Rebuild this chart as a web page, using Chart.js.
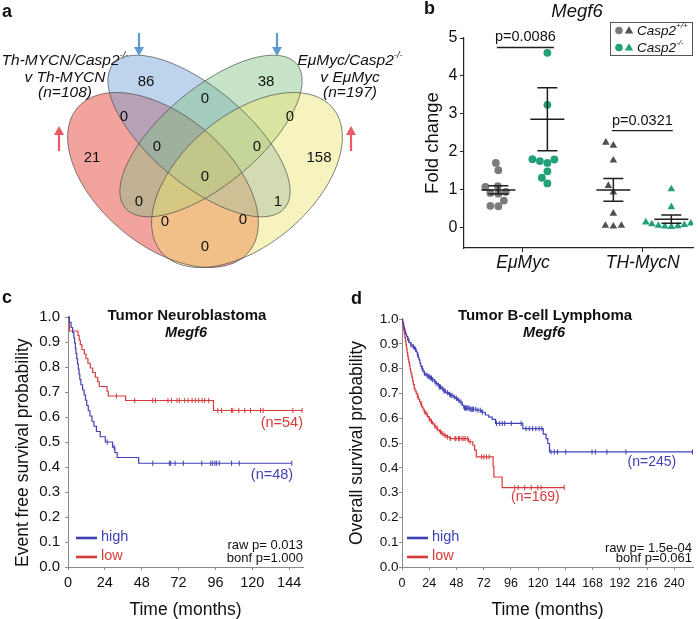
<!DOCTYPE html>
<html><head><meta charset="utf-8">
<script src="https://cdn.jsdelivr.net/npm/chart.js@4.4.1/dist/chart.umd.min.js"></script>
<style>
html,body{margin:0;padding:0;background:#fff;}
#wrap{position:relative;width:698px;height:619px;overflow:hidden;background:#fff;}
#wrap canvas{position:absolute;left:0;top:0;}
</style></head>
<body><div id="wrap">
<canvas id="cA" width="698" height="619"></canvas>
<canvas id="cB" width="698" height="619"></canvas>
<canvas id="cC" width="698" height="619"></canvas>
<canvas id="cD" width="698" height="619"></canvas>
</div>
<script>
// ---------------- DATA ----------------
// Panel a: Venn counts (A = Th-MYCN up, B = Th-MYCN down, C = EμMyc down, D = EμMyc up)
const vennRegions = ['A','B','C','D','B∩C','A∩B','C∩D','A∩B∩C','B∩C∩D','A∩B∩C∩D','A∩C','B∩D','A∩C∩D','A∩B∩D','A∩D'];
const vennCounts  = [21, 86, 38, 158, 0, 0, 0, 0, 0, 0, 0, 1, 0, 0, 0];
const vennSetLabels = [
  [[['Th-MYCN/Casp2',0],['-/-',1]], [['v Th-MYCN',0]], [['(n=108)',0]]],
  [[['EμMyc/Casp2',0],['-/-',1]], [['v EμMyc',0]], [['(n=197)',0]]]
];

// Panel b: Megf6 fold change
const bCategories = ['EμMyc', 'TH-MycN'];
const emuWT = [1.71, 1.52, 1.10, 1.08, 0.95, 0.92, 0.90, 0.72, 0.57, 0.58];
const emuKO = [4.61, 3.24, 1.80, 1.81, 1.71, 1.76, 1.49, 1.32, 1.17];
const thWT  = [2.17, 2.25, 1.78, 1.11, 0.94, 0.38, 0.06, 0.04, 0.06];
const thKO  = [1.02, 0.55, 0.15, 0.12, 0.10, 0.08, 0.06, 0.05, 0.04, 0.03];
const bMeans = [1.00, 2.86, 1.00, 0.23];
const bSems  = [0.11, 0.83, 0.30, 0.11];
const bPvals = ['p=0.0086', 'p=0.0321'];
const bTicks = [0, 1, 2, 3, 4, 5];

// Panel c: Neuroblastoma EFS (Megf6 high n=48, low n=54)
const cHighT = [0, 0.9, 2.0, 3.0, 3.8, 4.3, 4.8, 5.2, 5.7, 6.2, 6.7, 7.2, 7.7, 8.4, 9.5, 10.5, 11.4, 12.2, 13.2, 14.3, 15.6, 16.9, 18.5, 21, 24.3, 29, 30.5, 32, 46];
const cHighS = [1, 0.979, 0.958, 0.938, 0.917, 0.896, 0.875, 0.854, 0.833, 0.813, 0.792, 0.771, 0.750, 0.729, 0.708, 0.688, 0.667, 0.646, 0.625, 0.604, 0.583, 0.563, 0.542, 0.521, 0.500, 0.479, 0.458, 0.438, 0.415];
const cHighEnd = 145.7;
const cHighCens = [25.5, 30, 55.2, 66.0, 66.9, 69.7, 75.1, 87.1, 92.9, 94.2, 95.7, 96.8, 98.5, 106.5, 111.5, 145.7];
const cLowT = [0, 0.9, 6.5, 7.3, 8.0, 9.1, 10.6, 11.7, 13.0, 14.5, 16.1, 17.8, 19.3, 20.4, 25.4, 26.2, 37.5, 94.7];
const cLowS = [1, 0.944, 0.926, 0.907, 0.889, 0.870, 0.852, 0.833, 0.815, 0.796, 0.778, 0.759, 0.741, 0.722, 0.703, 0.684, 0.666, 0.626];
const cLowEnd = 152.5;
const cLowCens = [31.5, 43.4, 55.2, 56.9, 65.1, 67.3, 71.0, 72.5, 76.0, 78.2, 80.8, 82.9, 85.1, 87.3, 89.0, 91.6, 97.5, 99.9, 106.4, 107.3, 111.2, 115.1, 118.8, 125.3, 127.0, 146.4, 152.4];
const cXTicks = [0, 24, 48, 72, 96, 120, 144];

// Panel d: B-cell lymphoma OS (Megf6 high n=245, low n=169)
const dHighT = [0, 0.5, 1, 1.5, 2, 2.6, 3.2, 4, 5, 6.2, 7.8, 9.5, 11, 12.5, 13.5, 14.3, 15, 15.8, 16.5, 17.5, 18.5, 19.5, 21, 23, 25, 27, 28.5, 30, 31.5, 33, 35, 36.8, 38.5, 41, 43, 45, 47, 49, 51, 53, 54.5, 60, 66, 70, 73.5, 76.5, 79.5, 82.5, 106.5, 124.5, 127, 128.5, 130];
const dHighS = [1, 0.99, 0.98, 0.97, 0.96, 0.95, 0.94, 0.93, 0.915, 0.905, 0.895, 0.888, 0.878, 0.868, 0.855, 0.845, 0.835, 0.822, 0.81, 0.80, 0.79, 0.78, 0.774, 0.768, 0.762, 0.755, 0.748, 0.74, 0.734, 0.726, 0.718, 0.71, 0.703, 0.697, 0.692, 0.686, 0.68, 0.673, 0.665, 0.652, 0.641, 0.636, 0.632, 0.624, 0.613, 0.604, 0.595, 0.579, 0.558, 0.536, 0.518, 0.498, 0.464];
const dHighEnd = 256.5;
const dHighCens = [6, 8, 10, 12, 14, 18, 20, 22, 23, 24, 25, 26, 27, 29, 30, 32, 33, 34, 36, 37, 38, 40, 42, 43, 44, 46, 48, 50, 52, 55, 56, 57, 58, 59, 60, 61, 62, 63, 65, 67, 69, 71, 83.2, 86.1, 88.4, 90.5, 96.3, 105, 109.3, 112.2, 115.1, 118, 120.9, 123.2, 131.3, 134.2, 137.1, 144.3, 167.5, 170.4, 180.6, 197.4, 256];
const dLowT = [0, 0.5, 1, 1.5, 2, 2.5, 3, 3.5, 4, 4.5, 5, 5.5, 6, 6.5, 7, 7.5, 8, 8.7, 9.3, 10, 10.8, 11.5, 12.5, 13.5, 14.5, 15.5, 16.5, 17.5, 18.5, 19.5, 21, 22.5, 24, 25.5, 27, 28.5, 30, 31.5, 33, 35, 37, 39.5, 42, 58.5, 62.5, 64, 65.5, 80.3, 81, 88.3];
const dLowS = [1, 0.985, 0.97, 0.955, 0.94, 0.925, 0.91, 0.895, 0.88, 0.865, 0.85, 0.838, 0.826, 0.814, 0.80, 0.79, 0.78, 0.765, 0.75, 0.735, 0.72, 0.71, 0.70, 0.688, 0.677, 0.667, 0.656, 0.646, 0.636, 0.626, 0.616, 0.606, 0.596, 0.586, 0.577, 0.568, 0.56, 0.552, 0.545, 0.537, 0.53, 0.524, 0.518, 0.505, 0.491, 0.471, 0.444, 0.404, 0.363, 0.32];
const dLowEnd = 143;
const dLowCens = [14, 17, 20, 22, 24, 26, 29, 31, 34, 36, 38, 40, 42.6, 46.7, 47.5, 49.9, 50.6, 52.8, 54.5, 55.7, 58, 60, 70.2, 72.2, 74.5, 76.8, 99.4, 102.4, 108.1, 113.9, 119.7, 122.6, 143];
const dXTicks = [0, 24, 48, 72, 96, 120, 144, 168, 192, 216, 240];
const kmYTicks = [0, 0.1, 0.2, 0.3, 0.4, 0.5, 0.6, 0.7, 0.8, 0.9, 1.0];

// ---------------- LAYOUT / STYLE ----------------
const W = 698, H = 619;
const FONT = "'Liberation Sans', Arial, Helvetica, sans-serif";
Chart.defaults.font.family = FONT;
Chart.defaults.color = '#111';
const BLUE = '#4141b6', RED = '#d43c3c';
const GRAY = '#7b7b7b', DGRAY = '#505050', GREEN = '#22a079';

function font(size, weight, style) { return `${style || 'normal'} ${weight || 'normal'} ${size}px ${FONT}`; }
function rich(ctx, parts, x, y, size, style, weight, align) {
  const ws = parts.map(([t, sup]) => { ctx.font = font(sup ? size * 0.6 : size, weight, style); return ctx.measureText(t).width; });
  const total = ws.reduce((a, b) => a + b, 0);
  let cx = align === 'center' ? x - total / 2 : (align === 'right' ? x - total : x);
  ctx.textAlign = 'left'; ctx.textBaseline = 'middle';
  parts.forEach(([t, sup], i) => {
    ctx.font = font(sup ? size * 0.6 : size, weight, style);
    ctx.fillText(t, cx, sup ? y - size * 0.36 : y);
    cx += ws[i];
  });
}
function txt(ctx, t, x, y, size, opts) {
  opts = opts || {};
  ctx.font = font(size, opts.weight, opts.style);
  ctx.fillStyle = opts.color || '#111';
  ctx.textAlign = opts.align || 'center';
  ctx.textBaseline = opts.baseline || 'middle';
  ctx.fillText(t, x, y);
}

// ---------------- PANEL A (Venn) ----------------
const vennSpots = [[92,158],[146,82],[266,82],[319,158],[205,99],[124,117],[290,117],[157,147],[257,147],[205,177],[139,202],[278,202],[165,222],[243,220],[205,247]];
const vennShapes = [
  {cx:163, cy:180, a:112, b:65, rot:40,  fill:'rgba(228,51,40,0.45)'},
  {cx:199, cy:136, a:112, b:48, rot:40,  fill:'rgba(111,159,213,0.45)'},
  {cx:211, cy:136, a:112, b:48, rot:-40, fill:'rgba(133,195,133,0.45)'},
  {cx:247, cy:180, a:112, b:65, rot:-40, fill:'rgba(237,228,111,0.45)'}
];
function arrow(ctx, x, yTail, yTip, color) {
  const dir = yTip > yTail ? 1 : -1, hl = 9, hh = 5;
  ctx.strokeStyle = color; ctx.lineWidth = 2.2;
  ctx.beginPath(); ctx.moveTo(x, yTail); ctx.lineTo(x, yTip - dir * hl); ctx.stroke();
  ctx.fillStyle = color; ctx.beginPath();
  ctx.moveTo(x, yTip); ctx.lineTo(x - hh, yTip - dir * hl); ctx.lineTo(x + hh, yTip - dir * hl);
  ctx.closePath(); ctx.fill();
}
const vennPlugin = {
  id: 'venn',
  beforeDatasetsDraw(chart) {
    const ctx = chart.ctx, xs = chart.scales.x, ys = chart.scales.y;
    ctx.save();
    vennShapes.forEach(e => {
      const px = xs.getPixelForValue(e.cx), py = ys.getPixelForValue(e.cy);
      const pa = Math.abs(xs.getPixelForValue(e.cx + e.a) - px), pb = Math.abs(xs.getPixelForValue(e.cx + e.b) - px);
      ctx.beginPath(); ctx.ellipse(px, py, pa, pb, e.rot * Math.PI / 180, 0, Math.PI * 2);
      ctx.fillStyle = e.fill; ctx.fill();
    });
    vennShapes.forEach(e => {
      const px = xs.getPixelForValue(e.cx), py = ys.getPixelForValue(e.cy);
      const pa = Math.abs(xs.getPixelForValue(e.cx + e.a) - px), pb = Math.abs(xs.getPixelForValue(e.cx + e.b) - px);
      ctx.beginPath(); ctx.ellipse(px, py, pa, pb, e.rot * Math.PI / 180, 0, Math.PI * 2);
      ctx.strokeStyle = 'rgba(70,70,70,0.75)'; ctx.lineWidth = 0.9; ctx.stroke();
    });
    ctx.restore();
  },
  afterDatasetsDraw(chart) {
    const ctx = chart.ctx; ctx.save();
    const meta = chart.getDatasetMeta(0);
    meta.data.forEach((pt, i) => txt(ctx, String(vennCounts[i]), pt.x, pt.y, 15, {color:'#111'}));
    const lines = [61, 78, 93];
    vennSetLabels[0].forEach((p, i) => { ctx.fillStyle = '#111'; rich(ctx, p, 65, lines[i], 15.5, 'italic', 'normal', 'center'); });
    vennSetLabels[1].forEach((p, i) => { ctx.fillStyle = '#111'; rich(ctx, p, 350, lines[i], 15.5, 'italic', 'normal', 'center'); });
    arrow(ctx, 139, 33, 56, '#5a9bd4');
    arrow(ctx, 277, 33, 56, '#5a9bd4');
    arrow(ctx, 59, 151, 126, '#ea5b67');
    arrow(ctx, 351, 151, 126, '#ea5b67');
    txt(ctx, 'a', 2, 17, 18, {weight:'bold', align:'left', baseline:'alphabetic'});
    txt(ctx, 'b', 424, 14, 18, {weight:'bold', align:'left', baseline:'alphabetic'});
    txt(ctx, 'c', 2, 303, 18, {weight:'bold', align:'left', baseline:'alphabetic'});
    txt(ctx, 'd', 351, 304, 18, {weight:'bold', align:'left', baseline:'alphabetic'});
    ctx.restore();
  }
};
new Chart(document.getElementById('cA'), {
  type: 'scatter',
  data: { datasets: [{ data: vennSpots.map(([x, y]) => ({x, y})), pointRadius: 0 }] },
  options: {
    responsive: false, animation: false, devicePixelRatio: 1, events: [],
    layout: { padding: 0 },
    plugins: { legend: { display: false }, tooltip: { enabled: false } },
    scales: {
      x: { type: 'linear', min: 0, max: W, display: false },
      y: { type: 'linear', min: 0, max: H, reverse: true, display: false }
    }
  },
  plugins: [vennPlugin]
});

// ---------------- PANEL B ----------------
const groupX = [0.69, 1.675, 3.0, 4.165];
const catX = [1.185, 3.59];
const bArea = {left: 464, right: 693, top: 38, bottom: 248};
const XPX = (bArea.right - bArea.left) / 4.6, YPX = (bArea.bottom - bArea.top) / 5.53;
function swarm(values, center, diam) {
  const placed = [], xs = new Array(values.length);
  const order = values.map((v, i) => i).sort((a, b) => values[a] - values[b]);
  for (const i of order) {
    const y = values[i] * YPX;
    let off = 0;
    for (let s = 0; s < 400; s++) {
      const o = (s % 2 === 0 ? 1 : -1) * Math.ceil(s / 2) * 0.5;
      if (placed.every(p => Math.hypot(p.x - o, p.y - y) >= diam)) { off = o; break; }
    }
    placed.push({x: off, y});
    xs[i] = center + off / XPX;
  }
  return values.map((v, i) => ({x: xs[i], y: v}));
}
const bPlugin = {
  id: 'bdeco',
  afterDatasetsDraw(chart) {
    const ctx = chart.ctx, xs = chart.scales.x, ys = chart.scales.y;
    ctx.save();
    ctx.strokeStyle = '#1e1e1e'; ctx.lineWidth = 1.5;
    groupX.forEach((gx, i) => {
      const px = xs.getPixelForValue(gx);
      const m = ys.getPixelForValue(bMeans[i]), lo = ys.getPixelForValue(bMeans[i] - bSems[i]), hi = ys.getPixelForValue(bMeans[i] + bSems[i]);
      ctx.beginPath();
      ctx.moveTo(px - 17, m); ctx.lineTo(px + 17, m);
      ctx.moveTo(px, lo); ctx.lineTo(px, hi);
      ctx.moveTo(px - 10, lo); ctx.lineTo(px + 10, lo);
      ctx.moveTo(px - 10, hi); ctx.lineTo(px + 10, hi);
      ctx.stroke();
    });
    const pl = [[groupX[0] - 0.03, groupX[1] + 0.13, 4.75], [groupX[2] - 0.03, groupX[3] + 0.03, 2.56]];
    pl.forEach(([a, b, y], i) => {
      const x1 = xs.getPixelForValue(a), x2 = xs.getPixelForValue(b), py = ys.getPixelForValue(y);
      ctx.lineWidth = 1.3; ctx.beginPath(); ctx.moveTo(x1, py); ctx.lineTo(x2, py); ctx.stroke();
      txt(ctx, bPvals[i], (x1 + x2) / 2, py - 10, 14.5, {color:'#111'});
    });
    txt(ctx, 'Megf6', 577, 12, 18.5, {style:'italic'});
    ctx.strokeStyle = '#555'; ctx.lineWidth = 1;
    ctx.strokeRect(610.5, 22.5, 82, 33);
    const rows = [[30.5, GRAY, DGRAY, '+/+'], [47.5, GREEN, GREEN, '-/-']];
    rows.forEach(([y, c1, c2, sup]) => {
      ctx.fillStyle = c1; ctx.beginPath(); ctx.arc(619, y, 3.8, 0, Math.PI * 2); ctx.fill();
      ctx.fillStyle = c2; ctx.beginPath(); ctx.moveTo(629, y - 4.2); ctx.lineTo(633.2, y + 3); ctx.lineTo(624.8, y + 3); ctx.closePath(); ctx.fill();
      ctx.fillStyle = '#111';
      rich(ctx, [['Casp2', 0], [sup, 1]], 637, y + 0.5, 13.5, 'italic', 'normal', 'left');
    });
    ctx.restore();
  }
};
const bAxisCommon = {
  grid: { drawOnChartArea: false, drawTicks: true, tickLength: 4, color: '#222' },
  border: { color: '#222', width: 1.2 }
};
new Chart(document.getElementById('cB'), {
  type: 'scatter',
  data: { datasets: [
    { data: swarm(emuWT, groupX[0], 7.6), pointStyle: 'circle', pointRadius: 3.9, pointBackgroundColor: GRAY, pointBorderWidth: 0 },
    { data: swarm(emuKO, groupX[1], 7.6), pointStyle: 'circle', pointRadius: 3.9, pointBackgroundColor: GREEN, pointBorderWidth: 0 },
    { data: swarm(thWT, groupX[2], 8), pointStyle: 'triangle', pointRadius: 4.4, pointBackgroundColor: DGRAY, pointBorderWidth: 0 },
    { data: swarm(thKO, groupX[3], 6.2), pointStyle: 'triangle', pointRadius: 4.4, pointBackgroundColor: GREEN, pointBorderWidth: 0 }
  ]},
  options: {
    responsive: false, animation: false, devicePixelRatio: 1, events: [],
    layout: { padding: { left: 423.75, right: W - bArea.right, top: bArea.top, bottom: H - bArea.bottom - 30 } },
    plugins: { legend: { display: false }, tooltip: { enabled: false } },
    scales: {
      x: Object.assign({
        type: 'linear', min: 0, max: 4.6,
        afterFit(s) { s.height = 30; },
        afterBuildTicks(s) { s.ticks = catX.map(v => ({value: v})); },
        ticks: { callback: (v, i) => bCategories[i], font: { size: 17.5, style: 'italic' }, padding: 0.5, color: '#111', autoSkip: false, maxRotation: 0 }
      }, bAxisCommon),
      y: Object.assign({
        type: 'linear', min: -0.53, max: 5,
        afterFit(s) { s.width = 464 - 423.75; },
        afterBuildTicks(s) { s.ticks = bTicks.map(v => ({value: v})); },
        ticks: { font: { size: 16 }, padding: 2.7, color: '#111' },
        title: { display: true, text: 'Fold change', font: { size: 18.5, lineHeight: 1 }, padding: 0, color: '#111' }
      }, bAxisCommon)
    }
  },
  plugins: [bPlugin]
});

// ---------------- PANELS C & D (Kaplan-Meier) ----------------
function stepData(ts, ss, tEnd) {
  const d = ts.map((t, i) => ({x: t, y: ss[i]}));
  d.push({x: tEnd, y: ss[ss.length - 1]});
  return d;
}
function survAt(ts, ss, t) { let s = ss[0]; for (let i = 0; i < ts.length; i++) if (ts[i] <= t) s = ss[i]; return s; }
function makeKM(id, o) {
  const yW = o.area.left - o.yTitleLeft, xH = H - o.area.bottom;
  const axisCommon = {
    grid: { drawOnChartArea: false, drawTicks: true, tickLength: 3, color: '#8a8a8a' },
    border: { color: '#8a8a8a', width: 1 }
  };
  const plugin = {
    id: 'km' + id,
    afterDatasetsDraw(chart) {
      const ctx = chart.ctx, xs = chart.scales.x, ys = chart.scales.y;
      ctx.save();
      txt(ctx, o.title, o.titleX, 316, 15, {weight:'bold'});
      txt(ctx, 'Megf6', o.titleX - 1, 333, 14.5, {weight:'bold', style:'italic'});
      txt(ctx, o.nHigh, xs.getPixelForValue(o.nHighPos[0]), ys.getPixelForValue(o.nHighPos[1]), o.nSize, {color: BLUE, align: 'right'});
      txt(ctx, o.nLow, xs.getPixelForValue(o.nLowPos[0]), ys.getPixelForValue(o.nLowPos[1]), o.nSize, {color: RED, align: 'right'});
      txt(ctx, o.raw, o.statsRight, o.statsY[0], 13, {align: 'right'});
      txt(ctx, o.bonf, o.statsRight, o.statsY[1], 13, {align: 'right'});
      ctx.lineWidth = 2.6;
      [[538, BLUE, 'high'], [557, RED, 'low']].forEach(([y, c, t]) => {
        ctx.strokeStyle = c; ctx.beginPath(); ctx.moveTo(o.legX, y); ctx.lineTo(o.legX + 21, y); ctx.stroke();
        txt(ctx, t, o.legX + 25, y - 1, 14.5, {color: c, align: 'left'});
      });
      ctx.restore();
    }
  };
  const line = (ts, ss, end, c) => ({ data: stepData(ts, ss, end), showLine: true, stepped: true, borderColor: c, borderWidth: 1.2, pointRadius: 0, clip: 4 });
  const cens = (cs, ts, ss, c) => ({ data: cs.map(t => ({x: t, y: survAt(ts, ss, t)})), showLine: false, pointStyle: 'line', pointRotation: 90, pointRadius: 2.6, pointBorderColor: c, pointBorderWidth: 1, clip: 4 });
  return new Chart(document.getElementById(id), {
    type: 'scatter',
    data: { datasets: [
      line(o.highT, o.highS, o.highEnd, BLUE),
      line(o.lowT, o.lowS, o.lowEnd, RED),
      cens(o.highC, o.highT, o.highS, BLUE),
      cens(o.lowC, o.lowT, o.lowS, RED)
    ]},
    options: {
      responsive: false, animation: false, devicePixelRatio: 1, events: [],
      layout: { padding: { left: o.yTitleLeft, right: W - o.area.right, top: o.area.top, bottom: 0 } },
      plugins: { legend: { display: false }, tooltip: { enabled: false } },
      scales: {
        x: Object.assign({
          type: 'linear', min: 0, max: o.xMax,
          afterFit(s) { s.height = xH; },
          afterBuildTicks(s) { s.ticks = o.xTicks.map(v => ({value: v})); },
          ticks: { font: { size: o.xTickSize }, padding: o.xPad, color: '#111', autoSkip: false, maxRotation: 0 },
          title: { display: true, text: 'Time (months)', font: { size: 17.5, lineHeight: 1 }, padding: 0, color: '#111' }
        }, axisCommon),
        y: Object.assign({
          type: 'linear', min: 0, max: 1,
          afterFit(s) { s.width = yW; },
          afterBuildTicks(s) { s.ticks = kmYTicks.map(v => ({value: v})); },
          ticks: { font: { size: o.yTickSize }, padding: o.yPad, color: '#111', callback: v => v.toFixed(1) },
          title: { display: true, text: o.yTitle, align: o.yAlign, font: { size: 17.5, lineHeight: 1 }, padding: 0, color: '#111' }
        }, axisCommon)
      }
    },
    plugins: [plugin]
  });
}

makeKM('cC', {
  area: {left: 68, right: 303, top: 317, bottom: 567}, xMax: 153, xTicks: cXTicks,
  yTitleLeft: 14.25, yTitle: 'Event free survival probability', yAlign: 'start',
  xTickSize: 14.5, xPad: 4.3, yTickSize: 15, yPad: 5,
  highT: cHighT, highS: cHighS, highEnd: cHighEnd, highC: cHighCens,
  lowT: cLowT, lowS: cLowS, lowEnd: cLowEnd, lowC: cLowCens,
  title: 'Tumor Neuroblastoma', titleX: 187,
  nHigh: '(n=48)', nHighPos: [146.6, 0.368], nLow: '(n=54)', nLowPos: [153, 0.576], nSize: 14.5,
  raw: 'raw p= 0.013', bonf: 'bonf p=1.000', statsRight: 303, statsY: [545, 558], legX: 76
});
makeKM('cD', {
  area: {left: 402, right: 697, top: 319, bottom: 567}, xMax: 256.5, xTicks: dXTicks,
  yTitleLeft: 348.75, yTitle: 'Overall survival probability', yAlign: 'center',
  xTickSize: 12.5, xPad: 5.8, yTickSize: 13.5, yPad: 0.5,
  highT: dHighT, highS: dHighS, highEnd: dHighEnd, highC: dHighCens,
  lowT: dLowT, lowS: dLowS, lowEnd: dLowEnd, lowC: dLowCens,
  title: 'Tumor B-cell Lymphoma', titleX: 545,
  nHigh: '(n=245)', nHighPos: [241.7, 0.423], nLow: '(n=169)', nLowPos: [139, 0.282], nSize: 14,
  raw: 'raw p= 1.5e-04', bonf: 'bonf p=0.061', statsRight: 692, statsY: [548, 558], legX: 407
});
</script>
</body></html>
